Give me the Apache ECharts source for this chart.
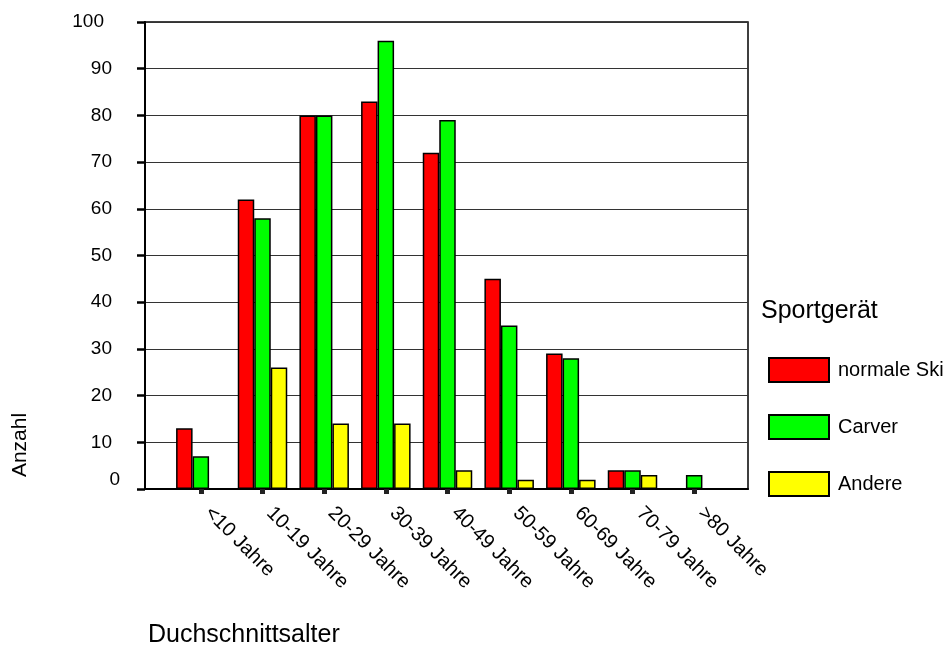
<!DOCTYPE html>
<html>
<head>
<meta charset="utf-8">
<title>Sportgerät nach Duchschnittsalter</title>
<script src="https://cdn.jsdelivr.net/npm/echarts@6/dist/echarts.min.js"></script>
<style>
  html, body { margin: 0; padding: 0; background: #fff; }
  #chart { width: 949px; height: 646px; }
</style>
</head>
<body>
<div id="chart"></div>
<script>
// Altersgruppen (Kategorien der x-Achse)
const categories = ['<10 Jahre', '10-19 Jahre', '20-29 Jahre', '30-39 Jahre', '40-49 Jahre',
                    '50-59 Jahre', '60-69 Jahre', '70-79 Jahre', '>80 Jahre'];
// Anzahl je Sportgerät (null = keine Nennung)
const normaleSki = [13, 62, 80, 83, 72, 45, 29, 4, null];
const carver     = [7, 58, 80, 96, 79, 35, 28, 4, 3];
const andere     = [null, 26, 14, 14, 4, 2, 2, 3, null];
// Skala der y-Achse
const yMin = 0, yMax = 100, yStep = 10;

const FONT = 'Liberation Sans, Arial, Helvetica, sans-serif';
const chart = echarts.init(document.getElementById('chart'), null, { renderer: 'canvas' });

function yLabel(v) {
  if (v === 0) return '{z|0}';
  if (v >= 100) return '{w|' + v + '}';
  return '{n|' + v + '}';
}

const barStyle = (c) => ({ color: c, borderColor: '#000', borderWidth: 1.5 });

chart.setOption({
  backgroundColor: '#fff',
  animation: false,
  textStyle: { fontFamily: FONT, color: '#000' },
  title: {
    text: 'Sportgerät',
    left: 761, top: 299,
    padding: 0,
    textStyle: { fontFamily: FONT, fontSize: 25, fontWeight: 'normal', color: '#000' }
  },
  legend: {
    orient: 'vertical',
    left: 768, top: 357,
    padding: 0,
    itemWidth: 60, itemHeight: 24, itemGap: 31,
    icon: 'rect',
    textStyle: { fontFamily: FONT, fontSize: 20, color: '#000', padding: [0, 0, 0, 4] },
    data: ['normale Ski', 'Carver', 'Andere']
  },
  grid: [
    { left: 145, right: 201, top: 22, bottom: 157, show: true, borderColor: '#000', borderWidth: 1.5 },
    { left: 170, right: 224, top: 22, bottom: 157 }
  ],
  xAxis: [
    {
      gridIndex: 0, type: 'category', data: categories,
      axisLine: { show: true, lineStyle: { color: '#000', width: 2 } },
      axisTick: { show: false }, axisLabel: { show: false }, splitLine: { show: false }
    },
    {
      gridIndex: 1, type: 'category', data: categories,
      axisLine: { show: false },
      axisTick: { show: true, alignWithLabel: true, length: 5, lineStyle: { color: '#222', width: 5 } },
      axisLabel: {
        interval: 0, rotate: -45, margin: 14, padding: [0, 0, 0, 10],
        fontFamily: FONT, fontSize: 20, color: '#000'
      },
      splitLine: { show: false }
    }
  ],
  yAxis: [
    {
      gridIndex: 0, type: 'value', min: yMin, max: yMax, interval: yStep,
      axisLine: { show: true, lineStyle: { color: '#000', width: 2 } },
      axisTick: { show: true, length: 8, lineStyle: { color: '#000', width: 2.5 } },
      axisLabel: {
        margin: 25, fontFamily: FONT, fontSize: 19, color: '#000',
        formatter: yLabel,
        rich: {
          z: { fontFamily: FONT, fontSize: 19, color: '#000', padding: [0, 0, 18, 0] },
          n: { fontFamily: FONT, fontSize: 19, color: '#000', padding: [0, 8, 0, 0] },
          w: { fontFamily: FONT, fontSize: 19, color: '#000', padding: [0, 16, 0, 0] }
        }
      },
      splitLine: { show: true, lineStyle: { color: '#333', width: 1.2 } }
    },
    {
      gridIndex: 1, type: 'value', min: yMin, max: yMax, interval: yStep, show: false,
      splitLine: { show: false }
    }
  ],
  series: [
    { name: 'normale Ski', type: 'bar', xAxisIndex: 1, yAxisIndex: 1, data: normaleSki,
      barWidth: 16.5, barGap: '0%', itemStyle: barStyle('#ff0000') },
    { name: 'Carver', type: 'bar', xAxisIndex: 1, yAxisIndex: 1, data: carver,
      barWidth: 16.5, barGap: '0%', itemStyle: barStyle('#00ff00') },
    { name: 'Andere', type: 'bar', xAxisIndex: 1, yAxisIndex: 1, data: andere,
      barWidth: 16.5, barGap: '0%', itemStyle: barStyle('#ffff00') }
  ],
  graphic: [
    {
      type: 'text', x: 20.5, y: 445, rotation: Math.PI / 2,
      style: { text: 'Anzahl', fontFamily: FONT, fontSize: 21, fill: '#000', align: 'center', verticalAlign: 'middle' }
    },
    {
      type: 'text', x: 148, y: 635,
      style: { text: 'Duchschnittsalter', fontFamily: FONT, fontSize: 25, fill: '#000', align: 'left', verticalAlign: 'middle' }
    }
  ]
});
</script>
</body>
</html>
